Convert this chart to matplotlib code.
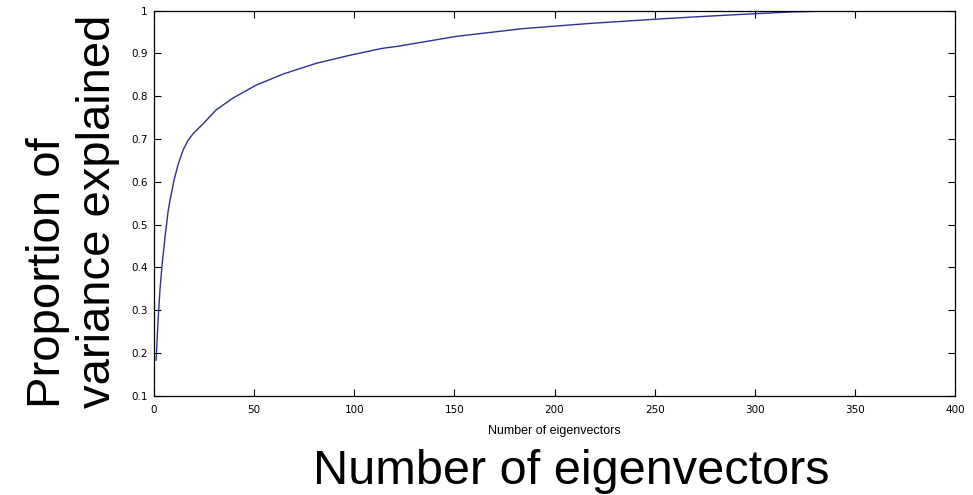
import numpy as np
import matplotlib
matplotlib.use('Agg')
import matplotlib.pyplot as plt

# values
n_eig = [1, 1.3, 2, 3, 4, 5.5, 7, 8, 10, 12, 14.6, 17, 19.6, 24.6, 31, 39.5, 51,
         64.5, 81, 98, 114, 122, 151, 184, 217, 250, 272, 300, 318, 335, 347]
prop_var = [0.183, 0.207, 0.275, 0.35, 0.405, 0.471, 0.53, 0.557, 0.604, 0.64,
            0.675, 0.697, 0.713, 0.736, 0.768, 0.796, 0.826, 0.852, 0.877, 0.896,
            0.912, 0.917, 0.940, 0.958, 0.970, 0.980, 0.986, 0.993, 0.997, 0.999, 1.0]

x_ticks = [0, 50, 100, 150, 200, 250, 300, 350, 400]
y_ticks = [0.1, 0.2, 0.3, 0.4, 0.5, 0.6, 0.7, 0.8, 0.9, 1.0]
y_tick_labels = ['0.1', '0.2', '0.3', '0.4', '0.5', '0.6', '0.7', '0.8', '0.9', '1']

plt.rcParams['font.family'] = ['Liberation Sans', 'DejaVu Sans']

fig = plt.figure(figsize=(9.73, 4.95), dpi=100)
ax = fig.add_axes([0.1583, 0.2006, 0.8232, 0.7778])

ax.plot(n_eig, prop_var, color='#2e2e9a', lw=1.0)

ax.set_xlim(0, 400)
ax.set_ylim(0.1, 1.0)
ax.set_xticks(x_ticks)
ax.set_xticklabels([str(t) for t in x_ticks], family='DejaVu Sans')
ax.set_yticks(y_ticks)
ax.set_yticklabels(y_tick_labels, family='DejaVu Sans')
ax.tick_params(direction='in', top=True, right=True, length=5, width=0.8,
               labelsize=7.5)
ax.tick_params(axis='x', pad=7)
ax.tick_params(axis='y', pad=4.5)
for s in ax.spines.values():
    s.set_linewidth(0.9)

# small matlab xlabel
ax.set_xlabel('Number of eigenvectors', fontsize=9, labelpad=7)

# big overlaid labels
fig.text(0.3217, 0.0222, 'Number of eigenvectors', fontsize=35,
         ha='left', va='baseline')
fig.text(0.0617, 0.1758, 'Proportion of', fontsize=34,
         rotation=90, rotation_mode='anchor', ha='left', va='baseline')
fig.text(0.1130, 0.1758, 'variance explained', fontsize=34,
         rotation=90, rotation_mode='anchor', ha='left', va='baseline')

fig.savefig('out.png', dpi=100)
